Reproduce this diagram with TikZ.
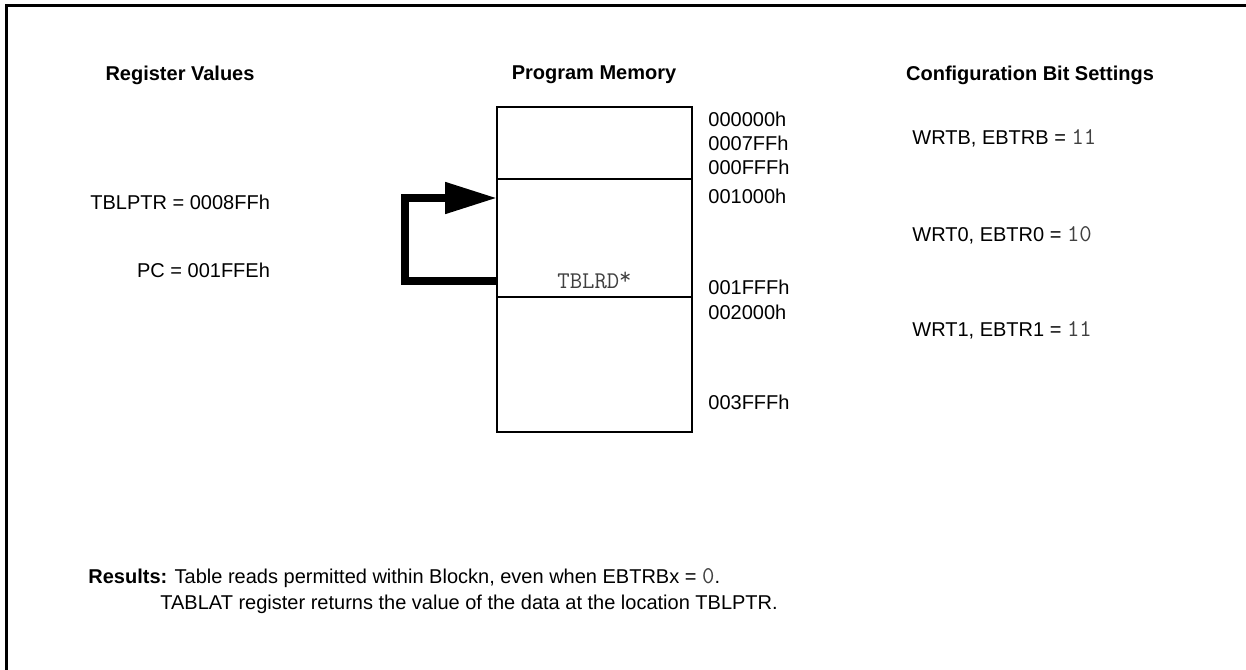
\documentclass[tikz,border=0pt]{standalone}
\usepackage{fontspec}
\setmainfont{Liberation Sans}
\usetikzlibrary{positioning,arrows.meta}
\newcommand{\bitval}[1]{{\fontsize{12}{14}\selectfont\ttfamily\color{black!75}#1}}
\begin{document}
\begin{tikzpicture}[x=0.5pt, y=-0.5pt, >=Stealth]
	\tikzset{
		every node/.style={font=\normalsize, inner sep=0pt},
		heading/.style={font=\bfseries},
		mem_block/.style={draw, line width=1pt, outer sep=0pt, minimum width=97.5pt},
		addr_label/.style={anchor=west},
		read_path/.style={line width=4pt, -{Triangle[length=26pt, width=15pt]}}
	}
	\useasboundingbox (0,0) rectangle (1246,669);
	% frame
	\draw[line width=1.5pt] (6,680) -- (6,5) -- (1250,5);

	\node[heading] (reg_head) at (180,75) {Register Values};
	\node[heading] (mem_head) at (594,75) {Program Memory};
	\node[heading] (cfg_head) at (1030,75) {Configuration Bit Settings};

	% program memory blocks
	\node[mem_block, minimum height=36pt, anchor=north west] (blk_boot) at (497,107) {};
	\node[mem_block, minimum height=59pt, below=0pt of blk_boot] (blk_zero) {};
	\node[mem_block, minimum height=67.5pt, below=0pt of blk_zero] (blk_one) {};
	\node[above=4pt of blk_zero.south] (tblrd) {\bitval{TBLRD\raisebox{0.35ex}{*}}};

	\foreach \ypos/\addr [count=\i] in {119/000000h, 143/0007FFh, 167/000FFFh, 196/001000h, 287/001FFFh, 312/002000h, 402/003FFFh} {
		\node[addr_label] (addr_\i) at (708,\ypos) {\addr};
	}

	% table read
	\draw[read_path] ([yshift=8pt]blk_zero.south west) -- ++(-92,0) |- ([yshift=-9.5pt]blk_zero.north west);

	\node[anchor=west] (tblptr_val) at (90,202) {TBLPTR = 0008FFh};
	\coordinate (pc_pos) at (0,270);
	\node[anchor=east] (pc_val) at (tblptr_val.east |- pc_pos) {PC = 001FFEh};

	\node[anchor=west] (cfg_boot) at (912,138) {WRTB, EBTRB = \bitval{11}};
	\node[anchor=west] (cfg_zero) at (912,235) {WRT0, EBTR0 = \bitval{10}};
	\node[anchor=west] (cfg_one) at (912,330) {WRT1, EBTR1 = \bitval{11}};

	\node[anchor=west] (res_one) at (88,578) {\textbf{Results:} Table reads permitted within Blockn, even when EBTRBx = \bitval{0}.};
	\node[anchor=west] (res_two) at (160,604) {TABLAT register returns the value of the data at the location TBLPTR.};
\end{tikzpicture}
\end{document}
